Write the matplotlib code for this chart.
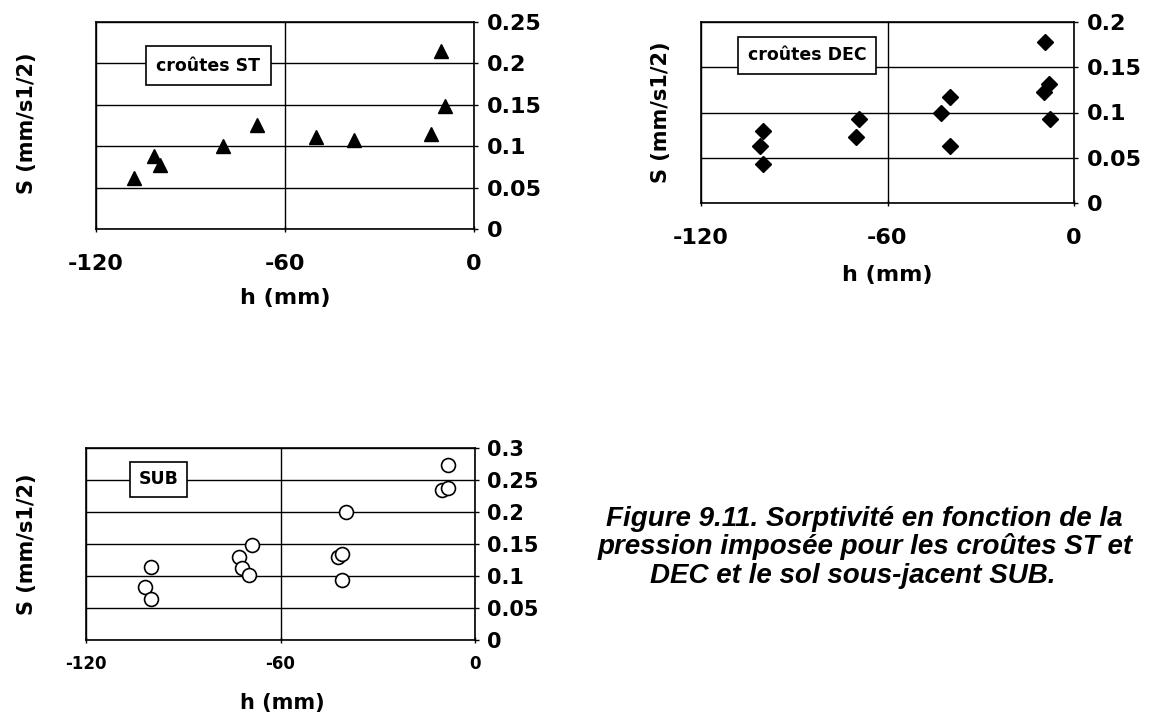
import matplotlib
matplotlib.use('Agg')
import matplotlib.pyplot as plt

W, H = 1157, 720
plt.rcParams['font.family'] = ['DejaVu Sans']
plt.rcParams['font.weight'] = 'bold'

# ---------------- data ----------------
x_ticks = [-120, -60, 0]
x_tick_labels = ['-120', '-60', '0']

st_h = [-107.9, -101.7, -99.8, -79.8, -68.8, -50.2, -38.2, -13.6, -10.4, -9.3]
st_s = [0.062, 0.088, 0.077, 0.100, 0.126, 0.111, 0.108, 0.115, 0.215, 0.149]
st_yticks = [0, 0.05, 0.1, 0.15, 0.2, 0.25]

dec_h = [-100.1, -101.1, -100.0, -69.1, -70.1, -42.7, -39.8, -39.8, -9.2, -8.2, -9.5, -7.7]
dec_s = [0.080, 0.063, 0.043, 0.093, 0.073, 0.099, 0.117, 0.063, 0.178, 0.131, 0.123, 0.093]
dec_yticks = [0, 0.05, 0.1, 0.15, 0.2]

sub_h = [-99.9, -101.8, -100.0, -72.8, -68.9, -71.8, -69.8, -39.9, -42.2, -40.9, -41.1, -8.2, -10.3, -8.2]
sub_s = [0.114, 0.0825, 0.064, 0.129, 0.148, 0.112, 0.101, 0.200, 0.130, 0.134, 0.094, 0.273, 0.234, 0.237]
sub_yticks = [0, 0.05, 0.1, 0.15, 0.2, 0.25, 0.3]

ylabel_text = 'S (mm/s1/2)'
xlabel_text = 'h (mm)'
caption_lines = ['Figure 9.11. Sorptivité en fonction de la',
                 'pression imposée pour les croûtes ST et',
                 'DEC et le sol sous-jacent SUB.']

fig = plt.figure(figsize=(W / 100, H / 100), dpi=100)


def add_ax(l, t, r, b):
    return fig.add_axes([l / W, 1 - b / H, (r - l) / W, (b - t) / H])


def style(ax, yticks, xfs, yfs, xpad, ypad):
    ax.set_xlim(-120, 0)
    ax.set_ylim(yticks[0], yticks[-1])
    ax.set_xticks(x_ticks)
    ax.set_xticklabels(x_tick_labels)
    ax.set_yticks(yticks)
    ax.set_yticklabels([f'{v:g}' for v in yticks])
    ax.yaxis.tick_right()
    ax.tick_params(axis='y', direction='out', length=3, width=1, pad=ypad,
                   labelsize=yfs, right=True, left=False)
    ax.tick_params(axis='x', direction='inout', length=4, width=1, pad=xpad,
                   labelsize=xfs)
    for lab in ax.get_xticklabels() + ax.get_yticklabels():
        lab.set_fontweight('bold')
    ax.grid(True, color='black', linewidth=1.0)
    ax.set_axisbelow(True)
    for s in ax.spines.values():
        s.set_linewidth(1.2)
        s.set_color('black')


def box_label(ax, x, y, txt, fs, pad):
    ax.text(x, y, txt, ha='center', va='center', fontsize=fs, fontweight='bold',
            bbox=dict(boxstyle=f'square,pad={pad}', fc='white', ec='black', lw=1.2),
            zorder=4)


# ---- top-left: croûtes ST ----
ax1 = add_ax(96, 22, 474, 229)
style(ax1, st_yticks, 16, 16, 15.8, 6.4)
ax1.plot(st_h, st_s, linestyle='none', marker='^', ms=10.5, color='black')
box_label(ax1, -84.4, 0.197, 'croûtes ST', 12.5, 0.6)
fig.text(285 / W, 1 - 298 / H, xlabel_text, ha='center', va='center', fontsize=16, fontweight='bold')
fig.text(27 / W, 1 - 123 / H, ylabel_text, ha='center', va='center', rotation=90, fontsize=15, fontweight='bold')

# ---- top-right: croûtes DEC ----
ax2 = add_ax(701, 22, 1074, 203)
style(ax2, dec_yticks, 16, 16, 16, 6.6)
ax2.plot(dec_h, dec_s, linestyle='none', marker='D', ms=8, color='black')
box_label(ax2, -85.9, 0.163, 'croûtes DEC', 12.5, 0.55)
fig.text(887 / W, 1 - 275 / H, xlabel_text, ha='center', va='center', fontsize=16, fontweight='bold')
fig.text(661 / W, 1 - 112 / H, ylabel_text, ha='center', va='center', rotation=90, fontsize=15, fontweight='bold')

# ---- bottom-left: SUB ----
ax3 = add_ax(86, 448, 475, 640)
style(ax3, sub_yticks, 12, 15, 8.6, 5.6)
ax3.plot(sub_h, sub_s, linestyle='none', marker='o', ms=10, mfc='white', mec='black', mew=1.2)
box_label(ax3, -97.6, 0.251, 'SUB', 12.5, 0.5)
fig.text(282 / W, 1 - 703 / H, xlabel_text, ha='center', va='center', fontsize=15, fontweight='bold')
fig.text(27 / W, 1 - 544 / H, ylabel_text, ha='center', va='center', rotation=90, fontsize=15, fontweight='bold')

# ---- caption ----
cap_kw = dict(fontsize=20, fontweight='bold', fontstyle='italic',
              family=['Liberation Sans', 'DejaVu Sans'])
cap_left = [606, 598, 650]
cap_base = [526, 554.5, 583]
for txt, lx, by in zip(caption_lines, cap_left, cap_base):
    fig.text(lx / W, 1 - by / H, txt, ha='left', va='baseline', **cap_kw)

fig.savefig('out.png', dpi=100)
